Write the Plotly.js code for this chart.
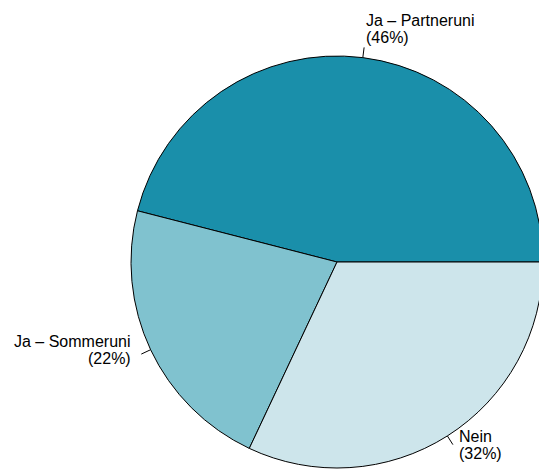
<!DOCTYPE html>
<html>
<head>
<meta charset="utf-8">
<script src="https://cdn.plot.ly/plotly-3.0.1.min.js"></script>
<style>
html, body { margin: 0; padding: 0; overflow: hidden; background: #fff; }
#chart { width: 545px; height: 469px; }
</style>
</head>
<body>
<div id="chart"></div>
<script>
// Data
var categories = ["Ja \u2013 Partneruni", "Ja \u2013 Sommeruni", "Nein"];
var values = [46, 22, 32];
var colors = ["#1A8FAA", "#80C2CF", "#CDE5EB"];

// Geometry (pixels)
var W = 545, H = 469;
var cx = 337, cy = 262, r = 206;

var total = values.reduce(function (a, b) { return a + b; }, 0);

var annotations = [];
var shapes = [];
var cum = 0;
function px(x) { return x / W; }
function py(y) { return 1 - y / H; }

values.forEach(function (v, i) {
  var theta = 2 * Math.PI * (cum + v / 2) / total;
  cum += v;
  var c = Math.cos(theta), s = Math.sin(theta);
  // leader line from r to 1.05 r
  shapes.push({
    type: "line", xref: "paper", yref: "paper",
    x0: px(cx + r * c), y0: py(cy - r * s),
    x1: px(cx + 1.05 * r * c), y1: py(cy - 1.05 * r * s),
    line: { color: "#000", width: 1 }
  });
  var tx = cx + 1.1 * r * c;
  var ty = cy - 1.1 * r * s;
  var anchor = c < 0 ? "right" : "left";
  var pct = Math.round(100 * v / total) + "%";
  annotations.push({
    xref: "paper", yref: "paper", x: px(tx), y: py(ty - 16.5),
    text: categories[i], showarrow: false, xanchor: anchor, yanchor: "middle",
    align: anchor, borderpad: 0,
    font: { family: "Liberation Sans, Arial, sans-serif", size: 16, color: "#000" }
  });
  annotations.push({
    xref: "paper", yref: "paper", x: px(tx), y: py(ty + 0.5),
    text: "(" + pct + ")", showarrow: false, xanchor: anchor, yanchor: "middle",
    align: anchor, borderpad: 0,
    font: { family: "Liberation Sans, Arial, sans-serif", size: 16, color: "#000" }
  });
});

// Plotly (counterclockwise): first slice occupies [rotation, rotation + size] measured clockwise from 12 o'clock.
// Start the first slice at 3 o'clock going counterclockwise.
var rotation = 90 - 360 * values[0] / total;

var trace = {
  type: "pie",
  labels: categories,
  values: values,
  sort: false,
  direction: "counterclockwise",
  rotation: rotation,
  textinfo: "none",
  hoverinfo: "none",
  showlegend: false,
  marker: { colors: colors, line: { color: "#000", width: 1 } },
  domain: { x: [px(cx - r), px(cx + r)], y: [py(cy + r), py(cy - r)] }
};

var layout = {
  width: W, height: H,
  margin: { l: 0, r: 0, t: 0, b: 0, pad: 0 },
  paper_bgcolor: "#fff",
  plot_bgcolor: "#fff",
  showlegend: false,
  annotations: annotations,
  shapes: shapes
};

Plotly.newPlot("chart", [trace], layout, { staticPlot: true, displayModeBar: false });
</script>
</body>
</html>
